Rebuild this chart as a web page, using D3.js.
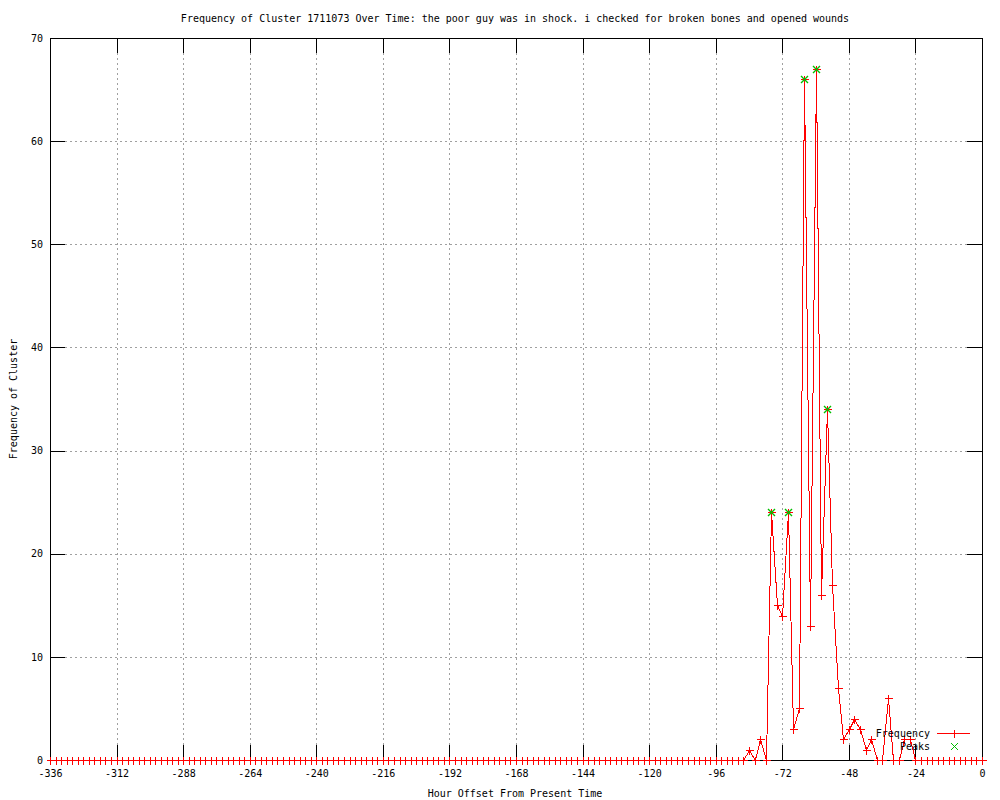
<!DOCTYPE html>
<head>
    <meta charset="utf-8">
    <title>Frequency of Cluster 1711073</title>
    <style>
        body {
            margin: 0;
            background: #fff;
        }
        svg text {
            font-family: "DejaVu Sans Mono", monospace;
            font-size: 10px;
            fill: #000;
        }
        .grid line {
            stroke: #a0a0a0;
            stroke-width: 1px;
            stroke-dasharray: 2,3;
            shape-rendering: crispEdges;
        }
        .axis line {
            stroke: #000;
            shape-rendering: crispEdges;
        }
        .axis path.domain {
            display: none;
        }
        .mark {
            shape-rendering: crispEdges;
        }
    </style>
    <script src="https://d3js.org/d3.v7.min.js"></script>
</head>
<body>
    <div id="chart"></div>
    <script>
        // hour offsets, one sample every 2 hours
        const hours = [
            -336, -334, -332, -330, -328, -326, -324, -322, -320, -318, -316, -314,
            -312, -310, -308, -306, -304, -302, -300, -298, -296, -294, -292, -290,
            -288, -286, -284, -282, -280, -278, -276, -274, -272, -270, -268, -266,
            -264, -262, -260, -258, -256, -254, -252, -250, -248, -246, -244, -242,
            -240, -238, -236, -234, -232, -230, -228, -226, -224, -222, -220, -218,
            -216, -214, -212, -210, -208, -206, -204, -202, -200, -198, -196, -194,
            -192, -190, -188, -186, -184, -182, -180, -178, -176, -174, -172, -170,
            -168, -166, -164, -162, -160, -158, -156, -154, -152, -150, -148, -146,
            -144, -142, -140, -138, -136, -134, -132, -130, -128, -126, -124, -122,
            -120, -118, -116, -114, -112, -110, -108, -106, -104, -102, -100, -98,
            -96, -94, -92, -90, -88, -86, -84, -82, -80, -78, -76, -74,
            -72, -70, -68, -66, -64, -62, -60, -58, -56, -54, -52, -50,
            -48, -46, -44, -42, -40, -38, -36, -34, -32, -30, -28, -26,
            -24, -22, -20, -18, -16, -14, -12, -10, -8, -6, -4, -2,
            0
        ];

        const frequency = [
            0, 0, 0, 0, 0, 0, 0, 0, 0, 0, 0, 0,
            0, 0, 0, 0, 0, 0, 0, 0, 0, 0, 0, 0,
            0, 0, 0, 0, 0, 0, 0, 0, 0, 0, 0, 0,
            0, 0, 0, 0, 0, 0, 0, 0, 0, 0, 0, 0,
            0, 0, 0, 0, 0, 0, 0, 0, 0, 0, 0, 0,
            0, 0, 0, 0, 0, 0, 0, 0, 0, 0, 0, 0,
            0, 0, 0, 0, 0, 0, 0, 0, 0, 0, 0, 0,
            0, 0, 0, 0, 0, 0, 0, 0, 0, 0, 0, 0,
            0, 0, 0, 0, 0, 0, 0, 0, 0, 0, 0, 0,
            0, 0, 0, 0, 0, 0, 0, 0, 0, 0, 0, 0,
            0, 0, 0, 0, 0, 0, 1, 0, 2, 0, 24, 15,
            14, 24, 3, 5, 66, 13, 67, 16, 34, 17, 7, 2,
            3, 4, 3, 1, 2, 0, 0, 6, 0, 0, 2, 2,
            0, 0, 0, 0, 0, 0, 0, 0, 0, 0, 0, 0,
            0
        ];

        const peakHours = [-76, -70, -64, -60, -56];
        const peakValues = [24, 24, 66, 67, 34];

        const xTicks = [-336, -312, -288, -264, -240, -216, -192, -168, -144, -120, -96, -72, -48, -24, 0];
        const yTicks = [0, 10, 20, 30, 40, 50, 60, 70];

        const width = 1000,
            height = 800,
            margin = { top: 38, right: 18, bottom: 40, left: 50 };

        const x = d3.scaleLinear()
            .domain([-336, 0])
            .range([margin.left, width - margin.right]);

        const y = d3.scaleLinear()
            .domain([0, 70])
            .range([height - margin.bottom, margin.top]);

        const px = v => Math.round(v) + 0.5;

        const svg = d3.select('#chart').append('svg')
            .attr('width', width)
            .attr('height', height);

        // grid
        svg.append('g').attr('class', 'grid')
            .selectAll('line.vx')
            .data(xTicks.slice(1, -1))
            .join('line')
            .attr('x1', d => px(x(d))).attr('x2', d => px(x(d)))
            .attr('y1', y(0)).attr('y2', y(70));

        svg.append('g').attr('class', 'grid')
            .selectAll('line.hy')
            .data(yTicks.slice(1, -1))
            .join('line')
            .attr('y1', d => px(y(d))).attr('y2', d => px(y(d)))
            .attr('x1', x(-336)).attr('x2', x(0));

        const fmt = d => String(d);

        svg.append('g').attr('class', 'axis')
            .attr('transform', `translate(0,${y(0)})`)
            .call(d3.axisBottom(x).tickValues(xTicks).tickSize(-15).tickPadding(10).tickFormat(fmt))
            .call(g => g.selectAll('text').attr('font-family', null).attr('font-size', null));

        svg.append('g').attr('class', 'axis')
            .attr('transform', `translate(0,${y(70)})`)
            .call(d3.axisTop(x).tickValues(xTicks).tickSize(-15).tickFormat(''));

        svg.append('g').attr('class', 'axis')
            .attr('transform', `translate(${x(-336)},0)`)
            .call(d3.axisLeft(y).tickValues(yTicks).tickSize(-15).tickPadding(7).tickFormat(fmt))
            .call(g => g.selectAll('text').attr('font-family', null).attr('font-size', null));

        svg.append('g').attr('class', 'axis')
            .attr('transform', `translate(${x(0)},0)`)
            .call(d3.axisRight(y).tickValues(yTicks).tickSize(-15).tickFormat(''));

        // border
        svg.append('rect')
            .attr('x', x(-336) + 0.5).attr('y', y(70) + 0.5)
            .attr('width', x(0) - x(-336)).attr('height', y(0) - y(70))
            .attr('fill', 'none').attr('stroke', '#000')
            .attr('shape-rendering', 'crispEdges');

        // frequency series
        const pts = hours.map((h, i) => [h, frequency[i]]);

        svg.append('path')
            .datum(pts)
            .attr('class', 'mark')
            .attr('fill', 'none')
            .attr('stroke', '#ff0000')
            .attr('stroke-width', 1)
            .attr('d', d3.line().x(d => px(x(d[0]))).y(d => px(y(d[1]))));

        const plus = 'M-4,0H4M0,-4V4';
        const cross = 'M-3.5,-3.5L3.5,3.5M-3.5,3.5L3.5,-3.5';

        svg.append('g')
            .selectAll('path')
            .data(pts)
            .join('path')
            .attr('class', 'mark')
            .attr('transform', d => `translate(${px(x(d[0]))},${px(y(d[1]))})`)
            .attr('d', plus)
            .attr('stroke', '#ff0000')
            .attr('fill', 'none');

        // peaks
        svg.append('g')
            .selectAll('path')
            .data(peakHours.map((h, i) => [h, peakValues[i]]))
            .join('path')
            .attr('transform', d => `translate(${px(x(d[0]))},${px(y(d[1]))})`)
            .attr('d', cross)
            .attr('stroke', '#00c000')
            .attr('stroke-width', 1.4)
            .attr('fill', 'none');

        // legend
        const legend = svg.append('g');
        legend.append('text')
            .attr('x', 930).attr('y', 737)
            .attr('text-anchor', 'end')
            .text('Frequency');
        legend.append('line')
            .attr('class', 'mark')
            .attr('x1', 937).attr('x2', 970)
            .attr('y1', 733.5).attr('y2', 733.5)
            .attr('stroke', '#ff0000');
        legend.append('path')
            .attr('class', 'mark')
            .attr('transform', 'translate(954.5,733.5)')
            .attr('d', plus)
            .attr('stroke', '#ff0000');
        legend.append('text')
            .attr('x', 930).attr('y', 750)
            .attr('text-anchor', 'end')
            .text('Peaks');
        legend.append('path')
            .attr('transform', 'translate(954.5,746.5)')
            .attr('d', cross)
            .attr('stroke', '#00c000');

        // titles
        svg.append('text')
            .attr('x', 515).attr('y', 22)
            .attr('text-anchor', 'middle')
            .text('Frequency of Cluster 1711073 Over Time: the poor guy was in shock. i checked for broken bones and opened wounds');

        svg.append('text')
            .attr('x', 515).attr('y', 797)
            .attr('text-anchor', 'middle')
            .text('Hour Offset From Present Time');

        svg.append('text')
            .attr('transform', 'translate(17,399) rotate(-90)')
            .attr('text-anchor', 'middle')
            .text('Frequency of Cluster');
    </script>
</body>
